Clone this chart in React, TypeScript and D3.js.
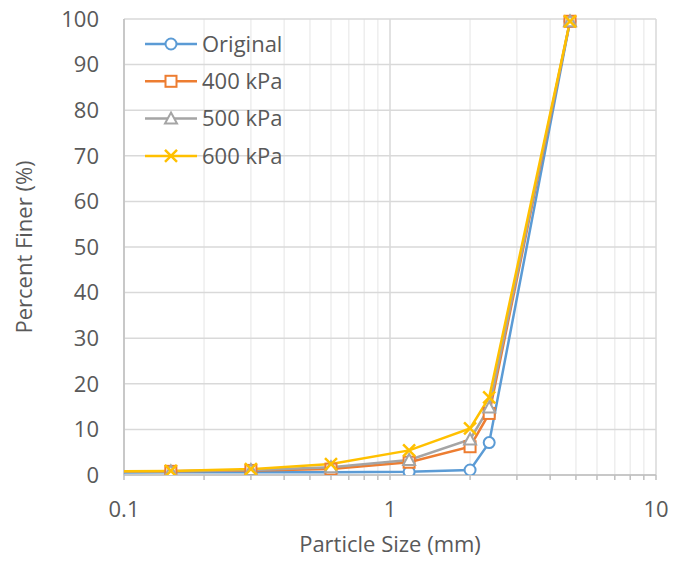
import React from "react";
import * as d3 from "d3";

// sieve sizes (mm)
const sizes = [0.075, 0.15, 0.3, 0.6, 1.18, 2.0, 2.36, 4.75];
const original = [0.5, 0.6, 0.6, 0.6, 0.7, 1.1, 7.1, 99.5];
const kpa400 = [0.7, 0.8, 1.0, 1.3, 2.8, 6.2, 13.5, 99.5];
const kpa500 = [0.7, 0.8, 1.1, 1.7, 3.3, 7.8, 14.8, 99.5];
const kpa600 = [0.8, 0.9, 1.3, 2.4, 5.4, 10.2, 17.0, 99.5];
const seriesNames = ["Original", "400 kPa", "500 kPa", "600 kPa"];
const seriesColors = ["#5B9BD5", "#ED7D31", "#A5A5A5", "#FFC000"];
const seriesMarkers = ["circle", "square", "triangle", "x"];
const yTicks = [0, 10, 20, 30, 40, 50, 60, 70, 80, 90, 100];
const xTicks = [0.1, 1, 10];

const W = 673;
const H = 562;
const left = 124;
const right = 656;
const top = 19;
const bottom = 475;
const font = "'Open Sans', Lato, sans-serif";
const fontSize = 22;
const textColor = "#595959";

const Marker = ({ kind, x, y, color }: { kind: string; x: number; y: number; color: string }) => {
  if (kind === "circle")
    return <circle cx={x} cy={y} r={5.5} fill="white" stroke={color} strokeWidth={2} />;
  if (kind === "square")
    return <rect x={x - 5.5} y={y - 5.5} width={11} height={11} fill="white" stroke={color} strokeWidth={2} />;
  if (kind === "triangle")
    return (
      <path
        d={`M${x},${y - 6} L${x + 6},${y + 5} L${x - 6},${y + 5} Z`}
        fill="white"
        stroke={color}
        strokeWidth={2}
      />
    );
  return (
    <path
      d={`M${x - 6},${y - 6} L${x + 6},${y + 6} M${x - 6},${y + 6} L${x + 6},${y - 6}`}
      stroke={color}
      strokeWidth={2.5}
      fill="none"
    />
  );
};

const App = () => {
  const x = d3.scaleLog().domain([0.1, 10]).range([left, right]);
  const y = d3.scaleLinear().domain([0, 100]).range([bottom, top]);
  const allSeries = [original, kpa400, kpa500, kpa600];

  // minor log ticks
  const minor: number[] = [];
  [0.1, 1].forEach((d) => {
    for (let k = 2; k <= 9; k++) minor.push(d * k);
  });

  const line = d3
    .line<number>()
    .x((_, i) => x(sizes[i]))
    .y((v) => y(v));

  return (
    <svg width={W} height={H} style={{ position: "absolute", left: 0, top: 0 }}>
      <rect width={W} height={H} fill="white" />
      <defs>
        <clipPath id="plot">
          <rect x={left} y={top - 8} width={right - left} height={bottom - top + 8} />
        </clipPath>
      </defs>
      {/* minor vertical gridlines */}
      {minor.map((m) => (
        <line key={"m" + m} x1={x(m)} x2={x(m)} y1={top} y2={bottom} stroke="#eeeeee" strokeWidth={1.5} />
      ))}
      {/* horizontal gridlines */}
      {yTicks.map((t) => (
        <line key={"h" + t} x1={left} x2={right} y1={y(t)} y2={y(t)} stroke="#d9d9d9" strokeWidth={1.5} />
      ))}
      {/* major vertical gridlines */}
      {xTicks.map((t) => (
        <line key={"v" + t} x1={x(t)} x2={x(t)} y1={top} y2={bottom} stroke="#d9d9d9" strokeWidth={1.5} />
      ))}
      {/* axes */}
      <line x1={left} x2={left} y1={top} y2={bottom} stroke="#bfbfbf" strokeWidth={1.5} />
      <line x1={left} x2={right} y1={bottom} y2={bottom} stroke="#bfbfbf" strokeWidth={1.5} />
      {[...xTicks, ...minor].map((t) => (
        <line key={"t" + t} x1={x(t)} x2={x(t)} y1={bottom} y2={bottom + 5} stroke="#bfbfbf" strokeWidth={1.5} />
      ))}
      {/* tick labels */}
      {yTicks.map((t) => (
        <text
          key={"yl" + t}
          x={99}
          y={y(t)}
          dy="0.35em"
          textAnchor="end"
          fontFamily={font}
          fontSize={fontSize}
          fill={textColor}
        >
          {t}
        </text>
      ))}
      {xTicks.map((t) => (
        <text
          key={"xl" + t}
          x={x(t)}
          y={509}
          dy="0.35em"
          textAnchor="middle"
          fontFamily={font}
          fontSize={fontSize}
          fill={textColor}
        >
          {t}
        </text>
      ))}
      <text x={390} y={544} dy="0.35em" textAnchor="middle" fontFamily={font} fontSize={fontSize} fill={textColor}>
        Particle Size (mm)
      </text>
      <text
        transform={`translate(24, ${(top + bottom) / 2}) rotate(-90)`}
        dy="0.35em"
        textAnchor="middle"
        fontFamily={font}
        fontSize={fontSize}
        fill={textColor}
      >
        Percent Finer (%)
      </text>
      {/* series */}
      <g clipPath="url(#plot)">
        {allSeries.map((s, si) => (
          <path key={"l" + si} d={line(s) || ""} fill="none" stroke={seriesColors[si]} strokeWidth={2.5} />
        ))}
        {allSeries.map((s, si) =>
          s.map((v, i) => (
            <Marker key={"p" + si + "-" + i} kind={seriesMarkers[si]} x={x(sizes[i])} y={y(v)} color={seriesColors[si]} />
          ))
        )}
      </g>
      {/* legend */}
      {seriesNames.map((n, i) => {
        const ly = 44 + i * 37.3;
        return (
          <g key={"lg" + n}>
            <line x1={145} x2={197} y1={ly} y2={ly} stroke={seriesColors[i]} strokeWidth={2.5} />
            <Marker kind={seriesMarkers[i]} x={171} y={ly} color={seriesColors[i]} />
            <text x={202} y={ly} dy="0.35em" fontFamily={font} fontSize={fontSize} fill={textColor}>
              {n}
            </text>
          </g>
        );
      })}
    </svg>
  );
};

export default App;
